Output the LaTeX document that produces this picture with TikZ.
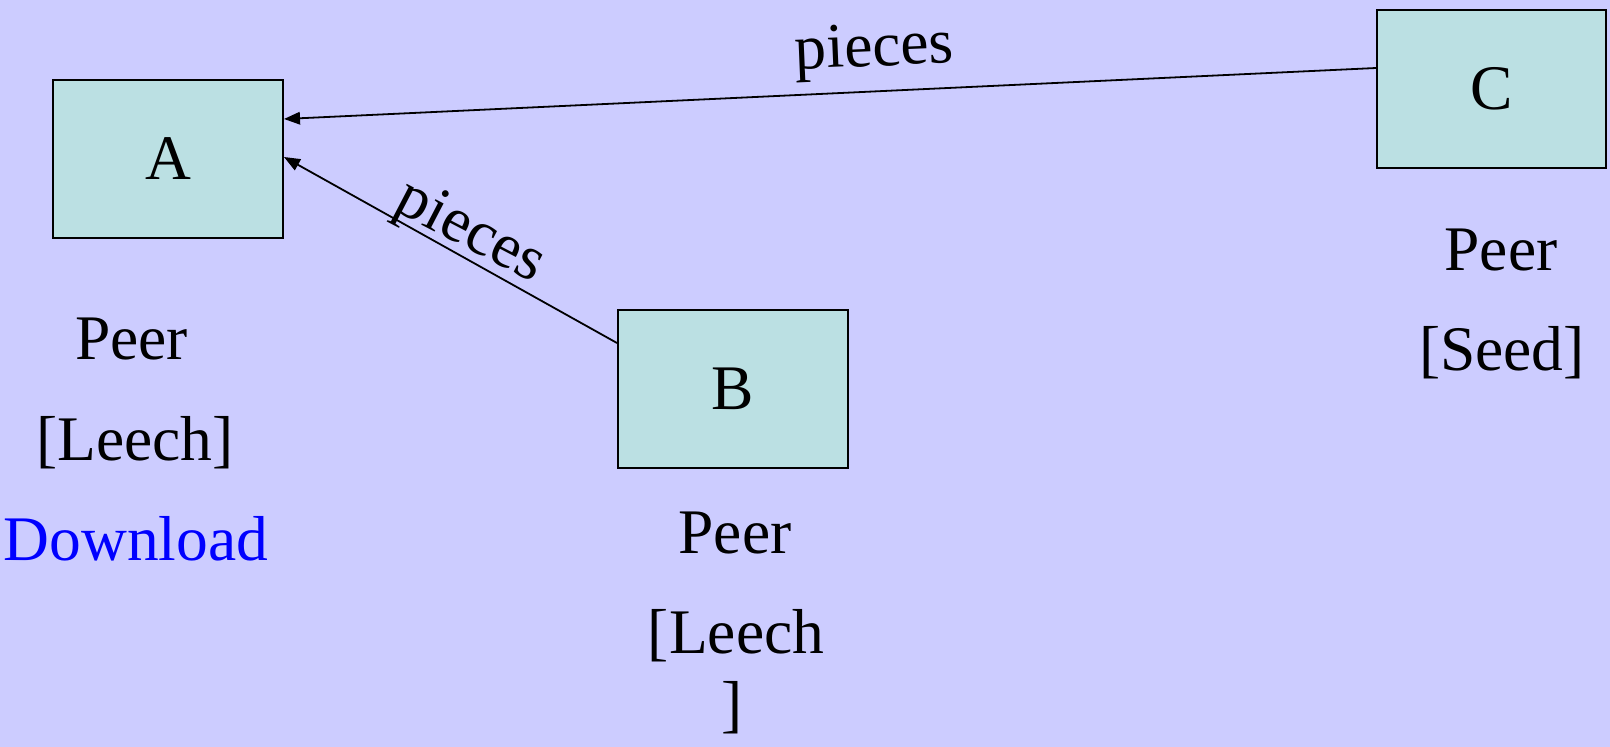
\documentclass[tikz,border=0pt]{standalone}
\usepackage{fontspec}
\setmainfont{Liberation Serif}
\usetikzlibrary{arrows.meta}
\definecolor{bgviolet}{RGB}{204,204,255}
\definecolor{peerfill}{RGB}{187,224,227}
\definecolor{dlblue}{RGB}{0,0,255}
\begin{document}
\begin{tikzpicture}[x=1pt,y=-1pt,
  every node/.style={font=\fontsize{63.5pt}{63.5pt}\selectfont},
  peerbox/.style={draw=black, line width=2pt, fill=peerfill, inner sep=0pt,
    minimum width=230pt, minimum height=158pt},
  caption/.style={inner sep=0pt, anchor=base},
  flow/.style={line width=1.8pt, -{Triangle[length=16pt,width=12.5pt]}}]
  % background
  \fill[bgviolet] (0,0) rectangle (1610,747);
  \useasboundingbox (0,0) rectangle (1610,747);

  % peers
  \node[peerbox] (A) at (168,159) {A};
  \node[peerbox] (B) at (733,388.5) {B};
  \node[peerbox, minimum width=229pt] (C) at (1491.5,88.5) {C};

  % captions under the peers
  \node[caption] (capA1) at (131.5,359) {Peer};
  \node[caption] (capA2) at (135,460) {[Leech]};
  \node[caption, text=dlblue] (capA3) at (136,560) {Download};
  \node[caption] (capB1) at (735,553) {Peer};
  \node[caption] (capB2) at (736,653) {[Leech};
  \node[caption] (capB3) at (732,725) {]};
  \node[caption] (capC1) at (1501,270) {Peer};
  \node[caption] (capC2) at (1502,370) {[Seed]};

  % connector end points on the box sides
  \coordinate (cOut) at ([yshift=20.5pt]C.west);
  \coordinate (aInTop) at ([yshift=40pt]A.east);
  \coordinate (bOut) at ([yshift=45.5pt]B.west);
  \coordinate (aInLow) at ([yshift=2pt]A.east);

  % piece transfers
  \draw[flow] (cOut) -- (aInTop);
  \draw[flow] (bOut) -- (aInLow);
  \node[caption, rotate=2.4] (lblC) at (875,66) {pieces};
  \node[caption, rotate=-27.5] (lblB) at (463,246) {pieces};
\end{tikzpicture}
\end{document}
